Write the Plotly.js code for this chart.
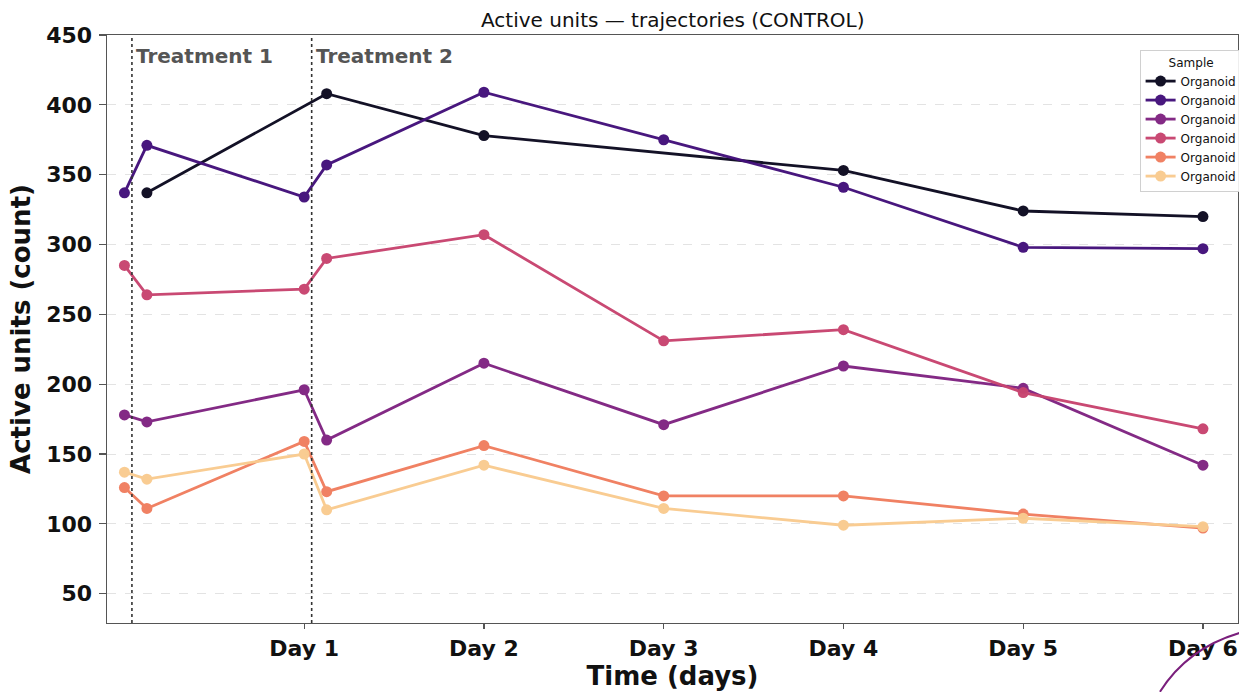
<!DOCTYPE html>
<html>
<head>
<meta charset="utf-8">
<script src="https://cdn.plot.ly/plotly-3.0.1.min.js"></script>
<style>html,body{margin:0;padding:0;background:#fff;}#chart{width:1239px;height:692px;}</style>
</head>
<body>
<div id="chart"></div>
<script>
// ---- data ----
const timesFull = [0, 0.125, 1, 1.125, 2, 3, 4, 5, 6];
const timesFirst = [0.125, 1.125, 2, 4, 5, 6];
const series1 = [337, 408, 378, 353, 324, 320];
const series2 = [337, 371, 334, 357, 409, 375, 341, 298, 297];
const series3 = [178, 173, 196, 160, 215, 171, 213, 197, 142];
const series4 = [285, 264, 268, 290, 307, 231, 239, 194, 168];
const series5 = [126, 111, 159, 123, 156, 120, 120, 107, 97];
const series6 = [137, 132, 150, 110, 142, 111, 99, 104, 98];
const seriesNames = ['Organoid', 'Organoid', 'Organoid', 'Organoid', 'Organoid', 'Organoid'];
const treatmentTimes = [1/24, 1 + 1/24];
const treatmentLabels = ['Treatment 1', 'Treatment 2'];
const dayTicks = [1, 2, 3, 4, 5, 6];
const dayLabels = ['Day 1', 'Day 2', 'Day 3', 'Day 4', 'Day 5', 'Day 6'];
const yTicks = [50, 100, 150, 200, 250, 300, 350, 400, 450];

// ---- styles ----
const colors = ['#0c0a20', '#43107a', '#802482', '#c8446f', '#f07d5e', '#f9cb8f'];
const xs = [timesFirst, timesFull, timesFull, timesFull, timesFull, timesFull];
const ys = [series1, series2, series3, series4, series5, series6];

const traces = ys.map((y, i) => ({
  type: 'scatter',
  mode: 'lines+markers',
  x: xs[i],
  y: y,
  name: seriesNames[i],
  line: {color: colors[i], width: 2.8},
  marker: {color: colors[i], size: 11},
  opacity: 0.97
}));

const shapes = treatmentTimes.map(t => ({
  type: 'line', xref: 'x', yref: 'paper', x0: t, x1: t, y0: 0, y1: 1,
  line: {color: '#333', width: 1.6, dash: 'dot'}
}));
// decorative arc at bottom right corner of the reference
shapes.push({
  type: 'path', xref: 'paper', yref: 'paper',
  path: 'M 0.931,-0.117 Q 0.9555,-0.042 1.003,-0.016',
  line: {color: '#7a1f7c', width: 2}
});

const annotations = treatmentTimes.map((t, i) => ({
  x: t, y: 1, xref: 'x', yref: 'paper', xanchor: 'left', yanchor: 'top',
  xshift: 2, yshift: -7, showarrow: false,
  text: '<b>' + treatmentLabels[i] + '</b>',
  font: {family: 'DejaVu Sans', size: 20, color: '#555'}
}));

const layout = {
  width: 1239, height: 692,
  margin: {l: 107, r: 1, t: 35, b: 69, autoexpand: false},
  paper_bgcolor: '#fff', plot_bgcolor: '#fff',
  font: {family: 'DejaVu Sans', color: '#000'},
  title: {text: 'Active units — trajectories (CONTROL)', x: 0.543, xanchor: 'center', y: 0.971, yanchor: 'middle',
          font: {family: 'DejaVu Sans', size: 20, color: '#111'}},
  xaxis: {
    range: [-0.097, 6.195],
    tickvals: dayTicks, ticktext: dayLabels,
    tickfont: {family: 'DejaVu Sans', size: 22, weight: 'bold', color: '#111'},
    ticks: 'outside', ticklen: 5, tickcolor: '#555', tickwidth: 1.2,
    showgrid: false, zeroline: false,
    showline: true, mirror: true, linecolor: '#555', linewidth: 1.4,
    title: {text: '<b>Time (days)</b>', font: {family: 'DejaVu Sans', size: 26, color: '#111'}, standoff: 7}
  },
  yaxis: {
    range: [29, 450],
    tickvals: yTicks,
    tickfont: {family: 'DejaVu Sans', size: 22, weight: 'bold', color: '#111'},
    ticks: 'outside', ticklen: 7, tickcolor: '#555', tickwidth: 1.2,
    ticklabelstandoff: 2,
    showgrid: true, gridcolor: '#e3e3e3', griddash: 'dash', gridwidth: 1,
    zeroline: false,
    showline: true, mirror: true, linecolor: '#555', linewidth: 1.4,
    title: {text: '<b>Active units (count)</b>', font: {family: 'DejaVu Sans', size: 26, color: '#111'}, standoff: 8}
  },
  showlegend: true,
  legend: {
    x: 0.913, y: 0.9745, xanchor: 'left', yanchor: 'top',
    bgcolor: 'rgba(255,255,255,0.9)', bordercolor: '#d0d0d0', borderwidth: 1,
    font: {family: 'DejaVu Sans', size: 12, color: '#111'},
    title: {text: 'Sample', side: 'top center', font: {family: 'DejaVu Sans', size: 12, color: '#111'}},
    itemwidth: 30, tracegroupgap: 0
  },
  shapes: shapes,
  annotations: annotations
};

Plotly.newPlot('chart', traces, layout, {displayModeBar: false, staticPlot: true});
</script>
</body>
</html>
